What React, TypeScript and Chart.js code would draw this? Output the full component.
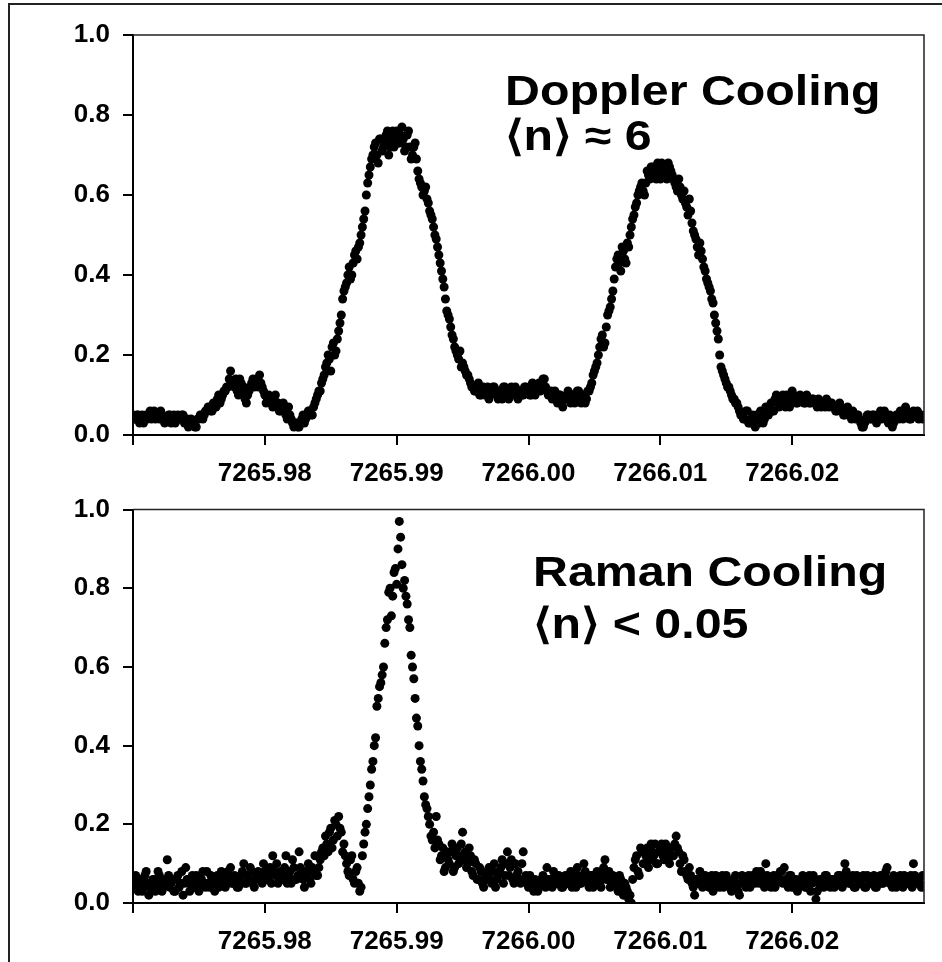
import React, { useEffect, useRef } from "react";
import { Chart, registerables } from "chart.js";

Chart.register(...registerables);

// ---- scan grid (frequency axis) ----
const X_MIN = 7265.97;
const X_MAX = 7266.03;
const X_START = 7265.97;
const X_STEP = 0.0002; // pass A at X_START + i*X_STEP, pass B half a step later
const xTickLabels = ["7265.98", "7265.99", "7266.00", "7266.01", "7266.02"];
const yTickLabels = ["0.0", "0.2", "0.4", "0.6", "0.8", "1.0"];

// ---- Doppler cooled spectrum (top panel), pass A ----
const dopplerA = [
  0.05, 0.04, 0.05, 0.04, 0.03, 0.05, 0.05, 0.04, 0.06, 0.05, 0.04, 0.05, 0.03, 0.04, 0.05, 0.04, 0.03, 0.05, 0.04, 0.05, 0.03, 0.02, 0.04, 0.03, 0.02,
  0.04, 0.05, 0.05, 0.06, 0.07, 0.06, 0.08, 0.09, 0.08, 0.10,
  0.11, 0.12, 0.16, 0.13, 0.14, 0.10, 0.13, 0.12, 0.08, 0.11, 0.13, 0.12, 0.14, 0.15, 0.12, 0.10, 0.09,
  0.09, 0.07, 0.10, 0.08, 0.06, 0.08, 0.05, 0.07, 0.04, 0.02, 0.03,
  0.02, 0.04, 0.03, 0.05, 0.06, 0.05, 0.08, 0.10,
  0.11, 0.14, 0.17, 0.20, 0.16, 0.23, 0.21, 0.26, 0.30,
  0.36, 0.38, 0.42, 0.40, 0.45, 0.44, 0.48,
  0.52, 0.56, 0.63, 0.67, 0.70, 0.73, 0.68, 0.74, 0.72, 0.75, 0.70,
  0.74, 0.72, 0.76, 0.73, 0.77, 0.71, 0.75, 0.72, 0.70,
  0.73, 0.66, 0.63, 0.60, 0.62, 0.58, 0.55, 0.52,
  0.49, 0.45, 0.41, 0.37, 0.31, 0.29, 0.25, 0.22, 0.20, 0.21, 0.18, 0.16, 0.15, 0.13,
  0.12, 0.11, 0.13, 0.10, 0.12, 0.11, 0.09, 0.11, 0.12, 0.10,
  0.11, 0.09, 0.12, 0.10, 0.11, 0.10, 0.12, 0.09, 0.11, 0.10,
  0.12, 0.11, 0.10, 0.12, 0.11, 0.13, 0.12, 0.14, 0.11, 0.10,
  0.09, 0.11, 0.08, 0.10, 0.07, 0.09, 0.11, 0.08, 0.10, 0.09,
  0.11, 0.08, 0.10, 0.09, 0.11,
  0.13, 0.16, 0.18, 0.22, 0.25, 0.23, 0.30, 0.32, 0.36, 0.42,
  0.45, 0.41, 0.46, 0.43, 0.47, 0.52, 0.55, 0.58, 0.61, 0.63,
  0.60, 0.66, 0.64, 0.67, 0.65, 0.68, 0.64, 0.67, 0.65, 0.68,
  0.66, 0.64, 0.62, 0.64, 0.60, 0.61, 0.57, 0.59, 0.53, 0.50,
  0.47, 0.48, 0.44, 0.41, 0.38, 0.36, 0.33, 0.28, 0.24, 0.17,
  0.15, 0.13, 0.12, 0.10, 0.09, 0.08, 0.06, 0.05, 0.04, 0.06,
  0.03, 0.05, 0.02, 0.04, 0.06, 0.03, 0.07, 0.05, 0.08, 0.06,
  0.10, 0.07, 0.09, 0.08, 0.10, 0.07, 0.11, 0.09, 0.08, 0.10,
  0.09, 0.08, 0.09, 0.08, 0.09, 0.08, 0.09, 0.07, 0.08, 0.09,
  0.07, 0.08, 0.07, 0.06, 0.08, 0.06, 0.05, 0.07, 0.05, 0.06,
  0.04, 0.05, 0.03, 0.02, 0.04, 0.05, 0.04, 0.05, 0.03, 0.05,
  0.04, 0.06, 0.04, 0.05, 0.02, 0.04, 0.05, 0.06, 0.04, 0.07,
  0.05, 0.04, 0.06, 0.05, 0.04, 0.05,
];

// ---- Doppler cooled spectrum (top panel), pass B ----
const dopplerB = [
  0.04, 0.05, 0.03, 0.05, 0.04, 0.04, 0.06, 0.05, 0.04, 0.05, 0.06, 0.04, 0.04, 0.05, 0.03, 0.05, 0.04, 0.04, 0.05, 0.03, 0.04, 0.03, 0.03, 0.02, 0.04,
  0.05, 0.04, 0.06, 0.07, 0.06, 0.08, 0.07, 0.10, 0.09, 0.11,
  0.12, 0.14, 0.13, 0.12, 0.11, 0.14, 0.11, 0.09, 0.10, 0.12, 0.14, 0.13, 0.12, 0.13, 0.11, 0.08, 0.10,
  0.08, 0.09, 0.07, 0.06, 0.07, 0.06, 0.04, 0.05, 0.03, 0.03, 0.02,
  0.03, 0.05, 0.04, 0.06, 0.05, 0.07, 0.09, 0.11,
  0.13, 0.15, 0.18, 0.19, 0.22, 0.20, 0.24, 0.28, 0.34,
  0.37, 0.40, 0.39, 0.43, 0.46, 0.47, 0.50,
  0.54, 0.60, 0.65, 0.69, 0.72, 0.70, 0.74, 0.71, 0.73, 0.76, 0.72,
  0.76, 0.74, 0.73, 0.75, 0.74, 0.72, 0.76, 0.69, 0.72,
  0.69, 0.64, 0.62, 0.61, 0.59, 0.56, 0.54, 0.50,
  0.47, 0.43, 0.39, 0.34, 0.30, 0.27, 0.24, 0.21, 0.19, 0.17, 0.17, 0.15, 0.14, 0.12,
  0.11, 0.12, 0.10, 0.11, 0.10, 0.12, 0.10, 0.12, 0.11, 0.09,
  0.10, 0.12, 0.11, 0.09, 0.12, 0.11, 0.10, 0.11, 0.10, 0.12,
  0.11, 0.10, 0.13, 0.10, 0.12, 0.11, 0.14, 0.12, 0.10, 0.11,
  0.10, 0.09, 0.10, 0.08, 0.09, 0.10, 0.09, 0.10, 0.08, 0.11,
  0.09, 0.10, 0.08, 0.11, 0.12,
  0.15, 0.17, 0.20, 0.24, 0.22, 0.27, 0.31, 0.34, 0.39, 0.44,
  0.43, 0.47, 0.44, 0.48, 0.50, 0.54, 0.57, 0.60, 0.62, 0.61,
  0.63, 0.65, 0.67, 0.66, 0.64, 0.66, 0.68, 0.66, 0.64, 0.67,
  0.65, 0.63, 0.61, 0.62, 0.59, 0.58, 0.55, 0.56, 0.51, 0.49,
  0.45, 0.46, 0.42, 0.39, 0.37, 0.34, 0.30, 0.26, 0.20, 0.16,
  0.14, 0.12, 0.11, 0.09, 0.08, 0.07, 0.05, 0.04, 0.06, 0.03,
  0.04, 0.03, 0.05, 0.03, 0.05, 0.04, 0.06, 0.07, 0.06, 0.09,
  0.08, 0.09, 0.10, 0.07, 0.09, 0.08, 0.10, 0.08, 0.09, 0.09,
  0.08, 0.10, 0.08, 0.09, 0.08, 0.07, 0.08, 0.08, 0.07, 0.08,
  0.08, 0.07, 0.06, 0.07, 0.07, 0.05, 0.06, 0.06, 0.04, 0.05,
  0.05, 0.04, 0.02, 0.03, 0.05, 0.04, 0.05, 0.04, 0.04, 0.06,
  0.05, 0.05, 0.03, 0.04, 0.03, 0.05, 0.04, 0.05, 0.05, 0.06,
  0.04, 0.05, 0.05, 0.06, 0.05, 0.04,
];

// ---- Raman cooled spectrum (bottom panel), pass A ----
const ramanA = [
  0.05, 0.07, 0.03, 0.06, 0.04, 0.08, 0.02, 0.05, 0.06, 0.04, 0.07, 0.03, 0.05, 0.11, 0.04, 0.06, 0.03, 0.07, 0.05, 0.02,
  0.09, 0.05, 0.06, 0.04, 0.07, 0.03, 0.06, 0.05, 0.08, 0.04, 0.06, 0.03, 0.07, 0.05, 0.06, 0.04, 0.08, 0.09, 0.05, 0.06,
  0.04,
  0.07, 0.10, 0.05, 0.06, 0.08, 0.04, 0.07, 0.06, 0.05, 0.08, 0.06, 0.09, 0.12, 0.07, 0.05, 0.08, 0.06, 0.12, 0.07, 0.05,
  0.09, 0.06, 0.13, 0.08, 0.04, 0.07, 0.06, 0.09, 0.12,
  0.07, 0.11,
  0.14, 0.17, 0.13, 0.19, 0.16, 0.20, 0.22, 0.18, 0.15,
  0.10, 0.07, 0.12, 0.05, 0.09, 0.03, 0.12, 0.18,
  0.24, 0.30, 0.36, 0.42, 0.52, 0.56, 0.60, 0.70, 0.79, 0.73,
  0.84, 0.81, 0.97, 0.86, 0.82, 0.76, 0.70, 0.60, 0.52, 0.45,
  0.36, 0.31, 0.25, 0.22, 0.17, 0.18,
  0.22, 0.15, 0.12, 0.08, 0.13, 0.10, 0.15, 0.09, 0.14, 0.12,
  0.18, 0.13, 0.10, 0.12, 0.07, 0.10, 0.06, 0.08, 0.04, 0.07,
  0.09, 0.05, 0.10, 0.06, 0.08, 0.11, 0.07, 0.13, 0.09, 0.06,
  0.10, 0.08, 0.05, 0.13, 0.07, 0.04, 0.06, 0.03, 0.05, 0.04,
  0.06, 0.05, 0.09, 0.06, 0.04, 0.07, 0.05, 0.06, 0.04, 0.07,
  0.05, 0.08, 0.06, 0.04, 0.07, 0.05, 0.10, 0.06, 0.04, 0.07,
  0.05, 0.08, 0.05, 0.07, 0.11, 0.06, 0.04, 0.07, 0.05, 0.03,
  0.06, 0.02, 0.04, 0.01, 0.00, 0.09, 0.12, 0.07, 0.13, 0.10,
  0.14, 0.11, 0.13, 0.15, 0.10, 0.14, 0.12, 0.15, 0.11, 0.14,
  0.12, 0.17, 0.13, 0.08, 0.11, 0.07, 0.09, 0.05, 0.02, 0.06,
  0.08, 0.04, 0.07, 0.05, 0.06, 0.03, 0.07, 0.05, 0.06, 0.04,
  0.07, 0.05, 0.03, 0.06, 0.04, 0.02, 0.07, 0.05, 0.06, 0.04,
  0.07, 0.05, 0.06, 0.08, 0.05, 0.10, 0.06, 0.04, 0.07, 0.05,
  0.06, 0.08, 0.09, 0.05, 0.07, 0.04, 0.06, 0.03, 0.05, 0.07,
  0.04, 0.06, 0.03, 0.07, 0.01, 0.05, 0.06, 0.04, 0.07, 0.05,
  0.06, 0.04, 0.05, 0.07, 0.04, 0.10, 0.06, 0.05, 0.07, 0.04,
  0.06, 0.05, 0.07, 0.04, 0.06, 0.05, 0.07, 0.04, 0.06, 0.05,
  0.07, 0.09, 0.05, 0.04, 0.06, 0.05, 0.07, 0.04, 0.06, 0.05,
  0.07, 0.10, 0.05, 0.06, 0.04,
];

// ---- Raman cooled spectrum (bottom panel), pass B ----
const ramanB = [
  0.04, 0.06, 0.05, 0.03, 0.07, 0.05, 0.04, 0.06, 0.03, 0.08, 0.05, 0.04, 0.06, 0.07, 0.05, 0.03, 0.06, 0.04, 0.08, 0.05,
  0.06, 0.03, 0.07, 0.05, 0.04, 0.06, 0.08, 0.04, 0.05, 0.07, 0.05, 0.06, 0.04, 0.08, 0.05, 0.07, 0.06, 0.05, 0.07, 0.04,
  0.06,
  0.08, 0.05, 0.07, 0.09, 0.05, 0.06, 0.08, 0.07, 0.10, 0.06, 0.07, 0.05, 0.08, 0.10, 0.06, 0.07, 0.09, 0.05, 0.08, 0.11,
  0.06, 0.07, 0.09, 0.06, 0.08, 0.10, 0.05, 0.08, 0.07,
  0.09, 0.13,
  0.12, 0.15, 0.18, 0.14, 0.21, 0.17, 0.19, 0.13, 0.12,
  0.08, 0.11, 0.06, 0.08, 0.05, 0.04, 0.15, 0.20,
  0.27, 0.34, 0.40, 0.50, 0.55, 0.58, 0.66, 0.72, 0.80, 0.78,
  0.85, 0.90, 0.93, 0.80, 0.78, 0.72, 0.63, 0.57, 0.47, 0.40,
  0.34, 0.27, 0.24, 0.20, 0.16, 0.14,
  0.16, 0.11, 0.14, 0.09, 0.11, 0.13, 0.08, 0.12, 0.10, 0.15,
  0.11, 0.09, 0.14, 0.08, 0.11, 0.06, 0.09, 0.05, 0.06, 0.08,
  0.06, 0.08, 0.04, 0.07, 0.09, 0.05, 0.10, 0.07, 0.11, 0.05,
  0.07, 0.06, 0.10, 0.06, 0.05, 0.07, 0.04, 0.06, 0.03, 0.05,
  0.07, 0.04, 0.06, 0.05, 0.08, 0.05, 0.07, 0.04, 0.06, 0.05,
  0.06, 0.04, 0.07, 0.09, 0.05, 0.06, 0.08, 0.05, 0.07, 0.04,
  0.06, 0.07, 0.04, 0.09, 0.06, 0.08, 0.05, 0.06, 0.04, 0.07,
  0.04, 0.05, 0.03, 0.02, 0.06,
  0.11, 0.08, 0.14, 0.10, 0.12, 0.09, 0.15, 0.12, 0.10, 0.13,
  0.15, 0.11, 0.13, 0.10, 0.12, 0.15, 0.14, 0.10, 0.12, 0.08,
  0.06, 0.07,
  0.04, 0.06, 0.05, 0.07, 0.05, 0.06, 0.04, 0.07, 0.05, 0.06,
  0.04, 0.07, 0.05, 0.06, 0.04, 0.05, 0.07, 0.03, 0.05, 0.06,
  0.04, 0.07, 0.05, 0.06, 0.08, 0.05, 0.06, 0.04, 0.07, 0.05,
  0.06, 0.04, 0.07, 0.08, 0.05, 0.06, 0.04, 0.07, 0.05, 0.06,
  0.04, 0.06, 0.05, 0.04, 0.07, 0.05, 0.06, 0.03, 0.06, 0.05,
  0.07, 0.05, 0.04, 0.06, 0.05, 0.07, 0.05, 0.06, 0.08, 0.05,
  0.06, 0.04, 0.07, 0.05, 0.06, 0.04, 0.07, 0.05, 0.06, 0.04,
  0.06, 0.07, 0.05, 0.08, 0.06, 0.05, 0.07, 0.04, 0.06, 0.05,
  0.07, 0.05, 0.06, 0.04, 0.07, 0.06, 0.05, 0.07,
];

const dopplerText = ["Doppler Cooling", "\u27E8n\u27E9 \u2248 6"];
const ramanText = ["Raman Cooling", "\u27E8n\u27E9 < 0.05"];

const FONT = "'Liberation Sans', Arial, Helvetica, sans-serif";

const panelText = {
  id: "panelText",
  afterDatasetsDraw(chart: any, _args: any, o: any) {
    const ctx = chart.ctx;
    ctx.save();
    ctx.fillStyle = "#000";
    ctx.font = `bold ${o.size}px ${FONT}`;
    ctx.textBaseline = "alphabetic";
    ctx.textAlign = "left";
    o.lines.forEach((t: string, k: number) => {
      ctx.save();
      ctx.translate(o.x, o.y[k]);
      ctx.scale(o.stretch, 1);
      ctx.fillText(t, 0, 0);
      ctx.restore();
    });
    ctx.restore();
  },
};

const frameLines = {
  id: "frameLines",
  afterDraw(chart: any) {
    const { left, top, right, bottom } = chart.chartArea;
    const ctx = chart.ctx;
    ctx.save();
    ctx.strokeStyle = "#222";
    ctx.lineWidth = 1.5;
    ctx.beginPath();
    ctx.moveTo(left, top);
    ctx.lineTo(right, top);
    ctx.lineTo(right, bottom);
    ctx.stroke();
    ctx.restore();
  },
};

function toPoints(values: number[], offset: number) {
  return values.map((y, i) => ({ x: X_START + (i + offset) * X_STEP, y }));
}

function makeConfig(passA: number[], passB: number[], lines: string[], p: any): any {
  const tickFont = { family: FONT, size: 26, weight: "bold" as const };
  const dot = {
    pointRadius: 4.5,
    pointHoverRadius: 4.5,
    pointBackgroundColor: "#000",
    pointBorderWidth: 0,
    showLine: false,
  };
  return {
    type: "scatter",
    data: {
      datasets: [
        { data: toPoints(passA, 0), ...dot },
        { data: toPoints(passB, 0.5), ...dot },
      ],
    },
    options: {
      animation: false,
      responsive: false,
      devicePixelRatio: 1,
      events: [],
      layout: { padding: { top: p.padTop, right: 18, left: 0, bottom: 0 } },
      plugins: {
        legend: { display: false },
        tooltip: { enabled: false },
        panelText: { lines, x: p.textX, y: p.textY, size: 42, stretch: 1.15 },
      },
      scales: {
        x: {
          type: "linear",
          min: X_MIN,
          max: X_MAX,
          afterFit: (s: any) => {
            s.height = p.xAxisHeight;
          },
          afterBuildTicks: (s: any) => {
            s.ticks = [X_MIN, ...xTickLabels.map(Number)].map((value) => ({ value }));
          },
          ticks: {
            autoSkip: false,
            maxRotation: 0,
            padding: 13,
            color: "#000",
            font: tickFont,
            callback: (v: any) => {
              const s = Number(v).toFixed(2);
              return xTickLabels.includes(s) ? s : "";
            },
          },
          grid: {
            drawOnChartArea: false,
            drawTicks: true,
            tickLength: 10,
            lineWidth: 2,
            color: "#000",
          },
          border: { display: true, color: "#000", width: 2 },
        },
        y: {
          min: 0,
          max: 1,
          afterFit: (s: any) => {
            s.width = 133;
          },
          afterBuildTicks: (s: any) => {
            s.ticks = yTickLabels.map((t) => ({ value: Number(t) }));
          },
          ticks: {
            padding: 13,
            color: "#000",
            font: tickFont,
            callback: (v: any) => Number(v).toFixed(1),
          },
          grid: {
            drawOnChartArea: false,
            drawTicks: true,
            tickLength: 10,
            lineWidth: 2,
            color: "#000",
          },
          border: { display: true, color: "#000", width: 2 },
        },
      },
    },
    plugins: [panelText, frameLines],
  };
}

function Panel(props: { a: number[]; b: number[]; lines: string[]; top: number; p: any }) {
  const ref = useRef<HTMLCanvasElement>(null);
  useEffect(() => {
    if (!ref.current) return;
    const chart = new Chart(ref.current, makeConfig(props.a, props.b, props.lines, props.p));
    return () => chart.destroy();
  }, []);
  return (
    <canvas
      ref={ref}
      width={942}
      height={481}
      style={{ position: "absolute", left: 0, top: props.top, width: 942, height: 481 }}
    />
  );
}

export default function App() {
  return (
    <div
      style={{
        position: "absolute",
        left: 0,
        top: 0,
        width: 942,
        height: 962,
        overflow: "hidden",
        background: "#fff",
      }}
    >
      <Panel
        a={dopplerA}
        b={dopplerB}
        lines={dopplerText}
        top={0}
        p={{ padTop: 35, xAxisHeight: 46, textX: 505, textY: [105, 150] }}
      />
      <Panel
        a={ramanA}
        b={ramanB}
        lines={ramanText}
        top={481}
        p={{ padTop: 21, xAxisHeight: 59, textX: 533, textY: [105, 157] }}
      />
      <div
        style={{
          position: "absolute",
          left: 8,
          top: 3,
          width: 1000,
          height: 1000,
          border: "2px solid #222",
          boxSizing: "border-box",
          pointerEvents: "none",
        }}
      />
    </div>
  );
}
